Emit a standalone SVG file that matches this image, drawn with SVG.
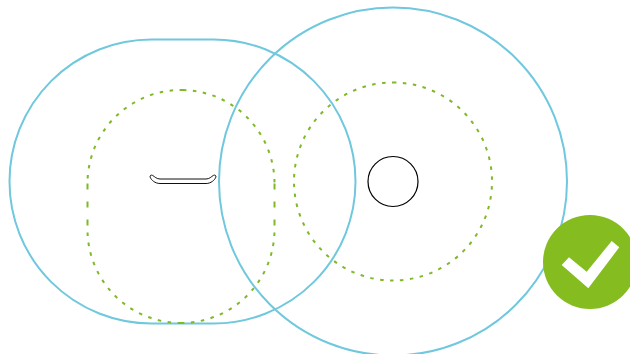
<svg xmlns="http://www.w3.org/2000/svg" width="630" height="354" viewBox="0 0 630 354">
<style>
.zone{fill:none;stroke:#6fc8de;stroke-width:2}
.dot{fill:none;stroke:#7fb928;stroke-width:2;stroke-dasharray:3.5 6.5}
.long{fill:none;stroke:#7fb928;stroke-width:2;stroke-dasharray:6 12}
.obj{fill:#fff;stroke:#000;stroke-width:1.2}
.bar{fill:#fff;stroke:#111;stroke-width:1}
</style>
<rect width="630" height="354" fill="#fff"/>
<g id="left-range">
<rect class="zone" x="9.5" y="39.5" width="346" height="284" rx="142" ry="142"/>
<path class="dot" d="M183 90A93.5 93.5 0 0 0 87.5 183.5"/>
<path class="dot" d="M183 90A93.5 93.5 0 0 1 274.5 183.5"/>
<path class="long" d="M87.5 183.5V229.5"/>
<path class="long" d="M274.5 183.5V229.5"/>
<path class="dot" d="M181 323A93.5 93.5 0 0 1 87.5 229.5"/>
<path class="dot" d="M181 323A93.5 93.5 0 0 0 274.5 229.5"/>
<path class="bar" d="M150.2 177.2C149.6 175.6 151 174.6 152.6 175.4C154.8 176.7 156.5 179 160 179H206C209.5 179 211.2 176.7 213.4 175.4C215 174.6 216.4 175.6 215.8 177.2C214.8 180 211 183.5 206 183.5H160C155 183.5 151.2 180 150.2 177.2Z"/>
</g>
<g id="right-range">
<circle class="zone" cx="393" cy="181.5" r="174"/>
<circle class="dot" cx="393" cy="181.5" r="99" transform="rotate(-90 393 181.5)"/>
<circle class="obj" cx="393" cy="181.5" r="25"/>
</g>
<g id="check-badge">
<circle cx="590" cy="262" r="47" fill="#85bc20"/>
<path fill="#fff" d="M561.7 265L569 257.3L586.7 271.7L611.7 241L619.3 247.3L588.3 288.3Z"/>
</g>
</svg>
